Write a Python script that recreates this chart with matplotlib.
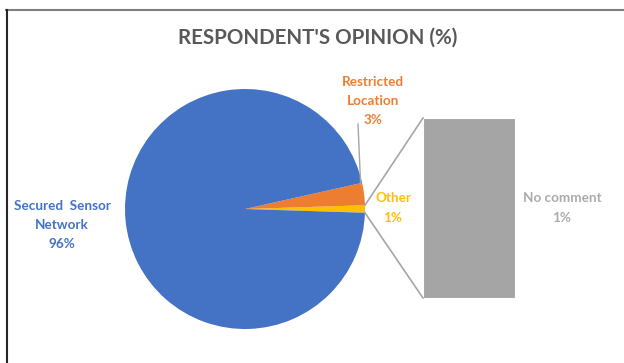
import numpy as np
import matplotlib
matplotlib.use("Agg")
import matplotlib.pyplot as plt
from matplotlib.lines import Line2D

# Data
pie_labels = ["Other", "Restricted\nLocation", "Secured  Sensor\nNetwork"]
pie_values = [1, 3, 96]
pie_colors = ["#FFC000", "#ED7D31", "#4472C4"]
bar_labels = ["No comment"]
bar_values = [1]
bar_colors = ["#A5A5A5"]
title = "RESPONDENT'S OPINION (%)"

W, H = 624, 363
fig = plt.figure(figsize=(W / 100, H / 100), dpi=100)
ax = fig.add_axes([0, 0, 1, 1])

def Y(y):
    return H - y

# frame lines
fig.add_artist(Line2D([6 / W, 1], [Y(9.5) / H, Y(9.5) / H], color="#7F7F7F", lw=1.5))
fig.add_artist(Line2D([6.5 / W, 6.5 / W], [0, Y(9.5) / H], color="#262626", lw=1.5))

cx, cy, r = 245, Y(209), 120
start = -180 * pie_values[0] / sum(pie_values)
wedges, _ = ax.pie(pie_values, colors=pie_colors, center=(cx, cy), radius=r,
                   startangle=start, counterclock=True,
                   wedgeprops=dict(linewidth=0))

# bar of "Other"
bx, bw, btop, bh_total = 423, 92, Y(118), 180
scale = bh_total / sum(bar_values)
bottom = btop - bh_total
for v, c in zip(bar_values, bar_colors):
    ax.bar(bx + bw / 2, v * scale, width=bw, bottom=bottom, color=c,
           edgecolor="white", linewidth=0.8)
    bottom += v * scale

# connectors
a1 = np.deg2rad(start)
a2 = np.deg2rad(-start)
ax.plot([cx + r * np.cos(a2), bx], [cy + r * np.sin(a2), btop], color="#A6A6A6", lw=1.2)
ax.plot([cx + r * np.cos(a1), bx], [cy + r * np.sin(a1), btop - bh_total], color="#A6A6A6", lw=1.2)

# leader line for restricted
al = np.deg2rad(12)
ax.plot([358, cx + r * 0.985 * np.cos(al)], [Y(124), cy + r * 0.985 * np.sin(al)],
        color="#A6A6A6", lw=1.0)

font = "Lato"
lab_kw = dict(ha="center", va="center", fontweight="bold", fontsize=9.7,
              family=font, linespacing=1.7)
ax.text(373, Y(101), f"{pie_labels[1]}\n{pie_values[1]}%", color=pie_colors[1], **lab_kw)
ax.text(393, Y(208), f"{pie_labels[0]}\n{pie_values[0]}%", color=pie_colors[0], **lab_kw)
ax.text(62, Y(225), f"{pie_labels[2]}\n{pie_values[2]}%", color=pie_colors[2], **lab_kw)
ax.text(562, Y(208), f"{bar_labels[0]}\n{bar_values[0]}%", color="#ABABAB", **lab_kw)

ax.text(318, Y(38), title, ha="center", va="center", fontsize=14.8,
        fontweight="bold", color="#595959", family=font)

ax.set_xlim(0, W)
ax.set_ylim(0, H)
ax.set_aspect("equal")
ax.axis("off")

fig.savefig("out.png", dpi=100)
